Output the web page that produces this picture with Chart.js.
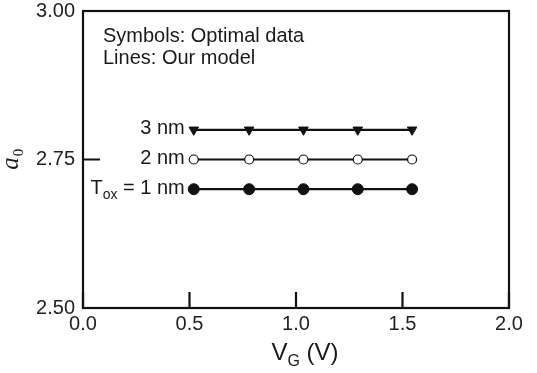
<!DOCTYPE html>
<html><head><meta charset="utf-8">
<script src="https://cdn.jsdelivr.net/npm/chart.js@4/dist/chart.umd.min.js"></script>
<style>html,body{margin:0;padding:0;background:#fff}#wrap{width:537px;height:373px}</style>
</head><body><div id="wrap"><canvas id="c" width="537" height="373"></canvas></div>
<script>
const vg = [0.52, 0.78, 1.035, 1.29, 1.545];
const a0_3nm = [2.80, 2.80, 2.80, 2.80, 2.80];
const a0_2nm = [2.75, 2.75, 2.75, 2.75, 2.75];
const a0_1nm = [2.70, 2.70, 2.70, 2.70, 2.70];
const seriesNames = ['3 nm', '2 nm', 'T_ox = 1 nm'];
const xTicks = [0.0, 0.5, 1.0, 1.5, 2.0];
const yTicks = [2.50, 2.75, 3.00];

const F = '"Liberation Sans", Arial, Helvetica, sans-serif';
function pts(ys){ return vg.map((x,i)=>({x:x,y:ys[i]})); }

const deco = {
  id:'deco',
  afterDraw(chart){
    const ctx = chart.ctx, a = chart.chartArea;
    const xs = chart.scales.x, ys = chart.scales.y;
    ctx.save();
    ctx.strokeStyle = '#111'; ctx.lineWidth = 2.2;
    ctx.strokeRect(a.left, a.top, a.right-a.left, a.bottom-a.top);
    // inward ticks
    ctx.beginPath();
    xTicks.forEach(v=>{ const p = xs.getPixelForValue(v); ctx.moveTo(p, a.bottom); ctx.lineTo(p, a.bottom-16); });
    yTicks.forEach(v=>{ const p = ys.getPixelForValue(v); ctx.moveTo(a.left, p); ctx.lineTo(a.left+17, p); });
    ctx.stroke();
    // annotation
    ctx.fillStyle = '#1a1a1a';
    ctx.font = '20px ' + F;
    ctx.textAlign = 'left'; ctx.textBaseline = 'alphabetic';
    ctx.fillText('Symbols: Optimal data', a.left+20, a.top+31);
    ctx.fillText('Lines: Our model', a.left+20, a.top+53);
    // series labels
    ctx.textAlign = 'right'; ctx.textBaseline = 'middle';
    chart.data.datasets.forEach((ds,i)=>{
      const meta = chart.getDatasetMeta(i);
      const p0 = meta.data[0];
      const rx = p0.x - 9, cy = p0.y - 1;
      const name = seriesNames[i];
      if (name.indexOf('_') >= 0) {
        const rest = name.split(' ').slice(1).join(' ');
        const parts = name.split(' ')[0].split('_');
        ctx.font = '20px ' + F;
        const wRest = ctx.measureText(' ' + rest).width;
        ctx.fillText(' ' + rest, rx, cy);
        ctx.font = '14px ' + F;
        const wSub = ctx.measureText(parts[1]).width;
        ctx.fillText(parts[1], rx - wRest, cy + 7);
        ctx.font = '20px ' + F;
        ctx.fillText(parts[0], rx - wRest - wSub, cy);
      } else {
        ctx.font = '20px ' + F;
        ctx.fillText(name, rx, cy);
      }
    });
    // x title V_G (V)
    ctx.textAlign = 'left'; ctx.textBaseline = 'alphabetic';
    ctx.font = '24px ' + F;
    const wV = ctx.measureText('V').width;
    ctx.font = '16px ' + F;
    const wG = ctx.measureText('G').width;
    ctx.font = '24px ' + F;
    const wR = ctx.measureText(' (V)').width;
    const tot = wV + wG + wR;
    const cx = (a.left + a.right)/2 + 9;
    let x0 = cx - tot/2;
    const by = 360;
    ctx.fillText('V', x0, by);
    ctx.font = '16px ' + F;
    ctx.fillText('G', x0 + wV, by + 6);
    ctx.font = '24px ' + F;
    ctx.fillText(' (V)', x0 + wV + wG, by);
    // y title a_0
    ctx.save();
    ctx.translate(18, ys.getPixelForValue(2.75));
    ctx.rotate(-Math.PI/2);
    ctx.font = 'italic 25px "Liberation Serif", "Times New Roman", serif';
    const wa = ctx.measureText('a').width;
    ctx.fillText('a', -wa/2 - 4, 0);
    ctx.font = '15px "Liberation Serif", "Times New Roman", serif';
    ctx.fillText('0', wa/2 - 3, 5);
    ctx.restore();
    ctx.restore();
  }
};

new Chart(document.getElementById('c'), {
  type: 'scatter',
  data: { datasets: [
    { data: pts(a0_3nm), showLine:true, borderColor:'#111', borderWidth:2.2, pointStyle:'triangle', rotation:180, pointRadius:5.5, pointBackgroundColor:'#111', pointBorderColor:'#111', pointBorderWidth:1 },
    { data: pts(a0_2nm), showLine:true, borderColor:'#111', borderWidth:2.2, pointStyle:'circle', pointRadius:4.5, pointBackgroundColor:'#fff', pointBorderColor:'#111', pointBorderWidth:1.2 },
    { data: pts(a0_1nm), showLine:true, borderColor:'#111', borderWidth:2.2, pointStyle:'circle', pointRadius:5.5, pointBackgroundColor:'#111', pointBorderColor:'#111', pointBorderWidth:1 }
  ]},
  options: {
    responsive:false, animation:false, devicePixelRatio:1,
    layout:{ autoPadding:false, padding:{ left:0, right:28, top:11, bottom:0 } },
    plugins:{ legend:{display:false}, tooltip:{enabled:false} },
    scales:{
      x:{ type:'linear', min:0, max:2,
        afterBuildTicks(s){ s.ticks = xTicks.map(v=>({value:v})); },
        afterFit(s){ s.height = 65; s.paddingLeft = 0; s.paddingRight = 0; s.paddingTop = 0; s.paddingBottom = 0; },
        grid:{ display:false, drawTicks:false },
        border:{ display:false },
        ticks:{ color:'#222', font:{ family:F, size:20 }, padding:4, maxRotation:0, callback:v=>v.toFixed(1) }
      },
      y:{ type:'linear', min:2.5, max:3.0,
        afterBuildTicks(s){ s.ticks = yTicks.map(v=>({value:v})); },
        afterFit(s){ s.width = 83; s.paddingTop = 0; s.paddingBottom = 0; s.paddingLeft = 0; s.paddingRight = 0; },
        grid:{ display:false, drawTicks:false },
        border:{ display:false },
        ticks:{ color:'#222', font:{ family:F, size:20 }, padding:8, callback:v=>v.toFixed(2) }
      }
    }
  },
  plugins:[deco]
});
</script></body></html>
